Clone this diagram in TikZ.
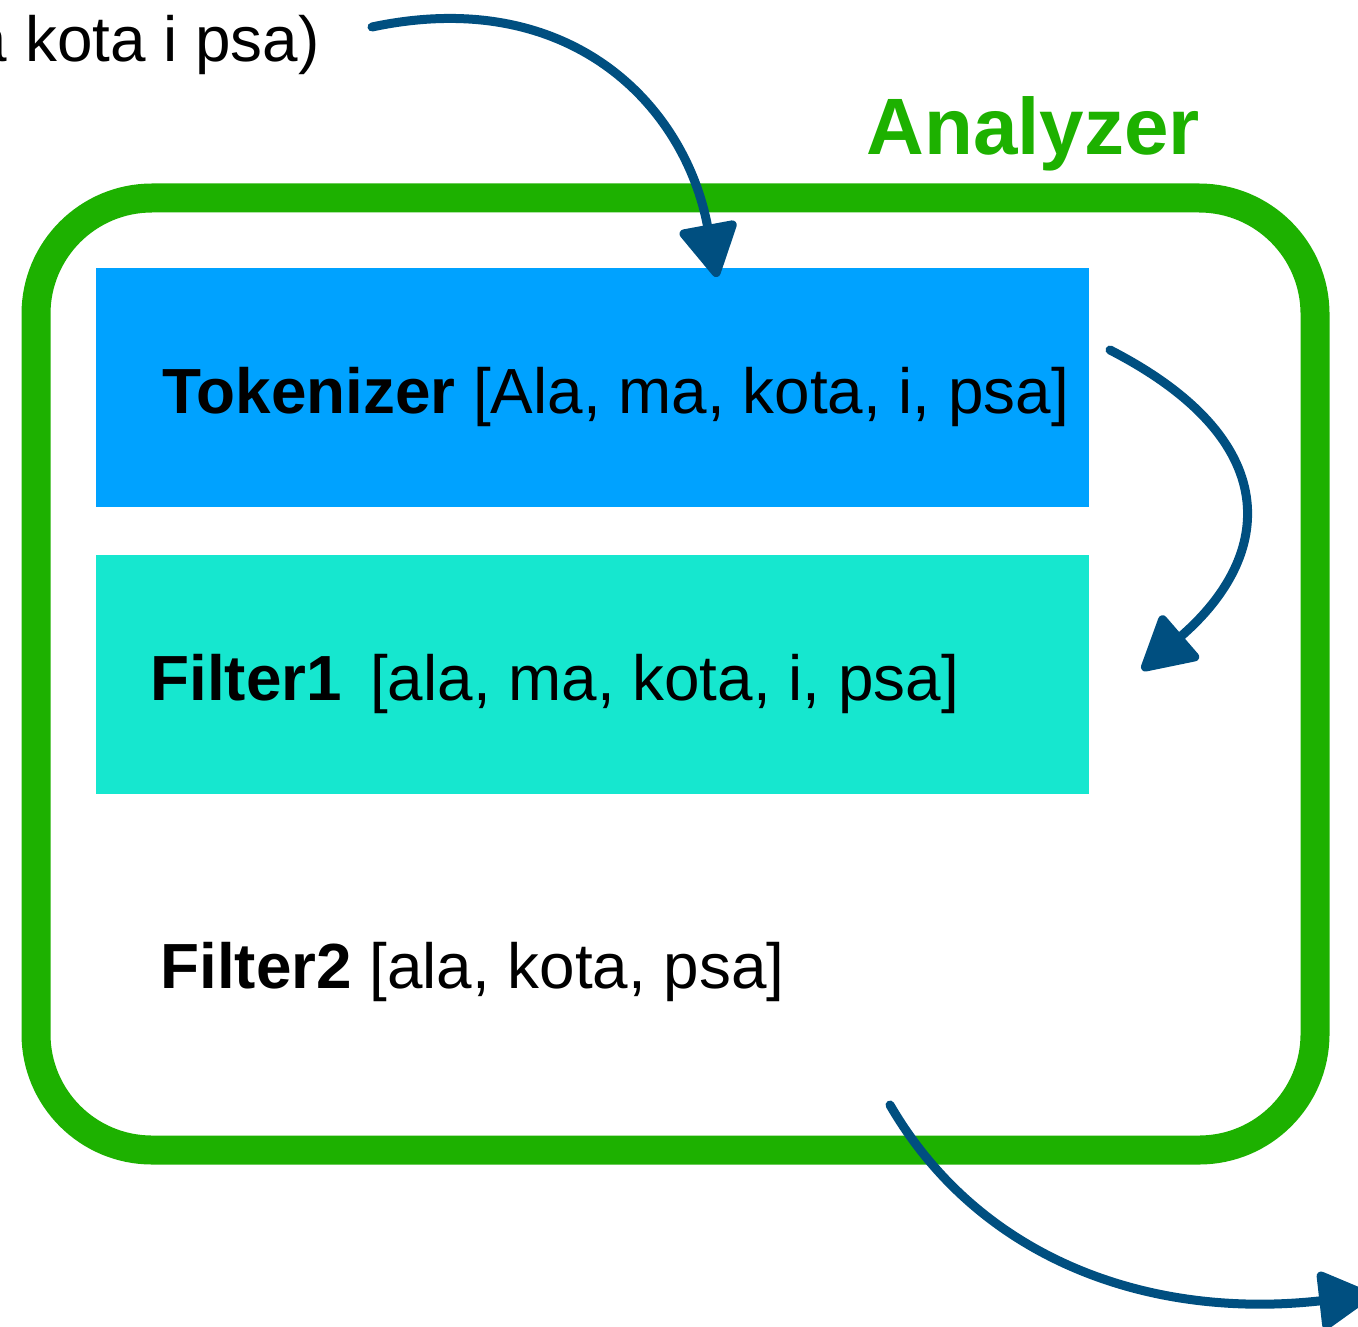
\documentclass[tikz,border=0pt]{standalone}
\usepackage{fontspec}
\setmainfont{Liberation Sans}
\usetikzlibrary{arrows.meta}
\definecolor{brushgreen}{HTML}{1DB100}
\definecolor{tokblue}{HTML}{00A2FF}
\definecolor{filtcyan}{HTML}{16E7CF}
\definecolor{arrowblue}{HTML}{004F80}
\tikzset{
  stagebox/.style={draw=none, minimum width=496.5pt, minimum height=119.5pt, inner sep=0pt},
  lbl/.style={inner sep=0pt, font=\fontsize{31.9}{38}\selectfont},
  flow/.style={draw=arrowblue, line width=4.5pt, line cap=round,
    -{Triangle[length=29pt,width=31pt,round]}, arrowblue},
}
\begin{document}
\begin{tikzpicture}[x=0.5pt,y=-0.5pt]
\useasboundingbox (0,0) rectangle (1358,1326);
\clip (0,0) rectangle (1358,1326);
% analyzer frame
\draw[brushgreen, line width=14.5pt, rounded corners=58pt] (36,198) rectangle (1315,1150);
\node[anchor=base west, inner sep=0pt, text=brushgreen, font=\fontsize{40}{48}\selectfont\bfseries] (analyzer) at (866,155) {Analyzer};
% stages
\node[stagebox, fill=tokblue, anchor=north west] (tok) at (96,268) {};
\node[stagebox, fill=filtcyan, anchor=north west] (f1) at (96,555) {};
\node[lbl, anchor=base west] (toktxt) at (162,413) {\textbf{Tokenizer} [Ala, ma, kota, i, psa]};
\node[lbl, anchor=base west] (f1txt) at (150,700) {\textbf{Filter1}\, [ala, ma, kota, i, psa]};
\node[lbl, anchor=base west] (f2txt) at (160,988) {\textbf{Filter2} [ala, kota, psa]};
\node[lbl, anchor=base east] (input) at (320,62) {(Ala ma kota i psa)};
% arrow ends
\coordinate (a1s) at (372,27);
\coordinate (a1e) at (717,277);
\coordinate (a2s) at (1110,350);
\coordinate (a2e) at (1142,670);
\coordinate (a3s) at (890,1105);
\coordinate (a3e) at (1372,1295);
\draw[flow] (a1s) .. controls (570,-15) and (685,105) .. (a1e);
\draw[flow] (a2s) .. controls (1285,440) and (1275,555) .. (a2e);
\draw[flow] (a3s) .. controls (980,1260) and (1150,1320) .. (a3e);
\end{tikzpicture}
\end{document}
